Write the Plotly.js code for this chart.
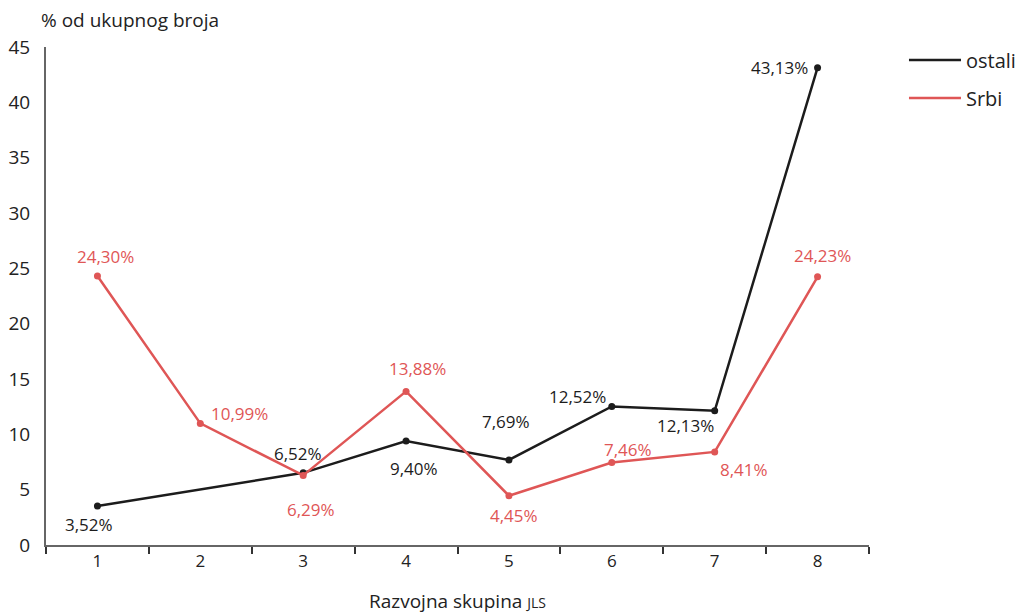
<!DOCTYPE html>
<html><head><meta charset="utf-8">
<script src="https://cdn.plot.ly/plotly-3.0.1.min.js"></script>
<style>body{margin:0;background:#fff}#c{width:1027px;height:614px}</style>
</head><body><div id="c"></div>
<script>
const categories = ["1","2","3","4","5","6","7","8"];
const ostali = [3.52, null, 6.52, 9.40, 7.69, 12.52, 12.13, 43.13];
const srbi = [24.30, 10.99, 6.29, 13.88, 4.45, 7.46, 8.41, 24.23];
const yTicks = [0,5,10,15,20,25,30,35,40,45];
const fmt = v => v.toFixed(2).replace(".", ",") + "%";
const FONT = "'Open Sans', Lato, sans-serif";
const BLACK = "#1c1c1c", RED = "#df5656";

// label offsets in pixels (style only): [dx, dy-up]
const ostaliOff = [[-8,-18],null,[-5,19],[8,-28],[-3,38],[-34,10],[-29,-15],[-38,0]];
const srbiOff = [[8,20],[39,10],[8,-34],[11,23],[5,-20],[16,13],[29,-18],[5,21]];

const traces = [
  {name:"ostali", x:categories, y:ostali, type:"scatter", mode:"lines+markers",
   connectgaps:true, line:{color:BLACK,width:2.5}, marker:{color:BLACK,size:7}, showlegend:false},
  {name:"Srbi", x:categories, y:srbi, type:"scatter", mode:"lines+markers",
   line:{color:RED,width:2.5}, marker:{color:RED,size:7}, showlegend:false},
  {name:"ostali", legendgroup:"a", x:[categories[0]], y:[null], type:"scatter", mode:"lines", line:{color:BLACK,width:2.5}},
  {name:"Srbi", legendgroup:"b", x:[categories[0]], y:[null], type:"scatter", mode:"lines", line:{color:RED,width:2.5}}
];

const ann = [];
function addLabels(vals, offs, color){
  vals.forEach((v,i)=>{
    if (v == null) return;
    ann.push({x:i, y:v, xref:"x", yref:"y", text:fmt(v), showarrow:false,
      xanchor:"center", yanchor:"middle", xshift:offs[i][0], yshift:offs[i][1],
      font:{family:FONT,size:17,color:color}});
  });
}
addLabels(ostali, ostaliOff, BLACK);
addLabels(srbi, srbiOff, RED);
ann.push({text:"% od ukupnog broja", xref:"paper", yref:"paper", x:-0.008, y:1.025, xanchor:"left", yanchor:"bottom",
    showarrow:false, font:{family:FONT,size:19,color:"#222"}});

const layout = {
  width:1027, height:614,
  margin:{l:46, r:158, t:47, b:69, autoexpand:false},
  paper_bgcolor:"#fff", plot_bgcolor:"#fff",
  font:{family:FONT, size:17, color:"#222"},
  showlegend:true,
  legend:{x:1.0425, y:1.013, xanchor:"left", yanchor:"top", traceorder:"grouped",
    font:{family:FONT,size:20,color:"#222"}, itemwidth:52, tracegroupgap:9},
  xaxis:{type:"category", categoryorder:"array", categoryarray:categories, range:[-0.5,7.5],
    showgrid:false, zeroline:false, showline:true, linecolor:"#666", linewidth:2,
    ticks:"outside", tickson:"boundaries", ticklen:7, tickcolor:"#333", tickwidth:1.5,
    tickfont:{family:FONT,size:17,color:"#222"}, automargin:false,
    title:{text:"Razvojna skupina <span style='font-size:14px'>JLS</span>", font:{family:FONT,size:19,color:"#222"}, standoff:24}},
  yaxis:{range:[0,45], tickvals:yTicks, showgrid:false, zeroline:false, showline:true, linecolor:"#666", linewidth:2,
    ticks:"", ticklabelstandoff:10, automargin:false, tickfont:{family:FONT,size:19,color:"#222"}},
  annotations:ann
};
Plotly.newPlot("c", traces, layout, {displayModeBar:false});
</script></body></html>
